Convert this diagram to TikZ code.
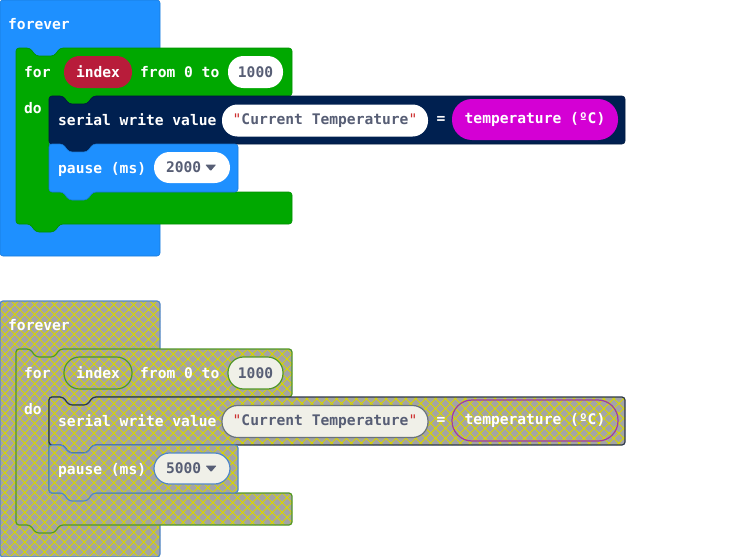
\documentclass[tikz,border=0pt]{standalone}
\usepackage{fontspec}
\newfontfamily\blockfont{DejaVu Sans Mono}
\usetikzlibrary{patterns.meta}

\definecolor{evtblue}{RGB}{30,144,255}
\definecolor{loopgreen}{RGB}{0,168,0}
\definecolor{serialnavy}{RGB}{0,32,80}
\definecolor{varred}{RGB}{184,28,58}
\definecolor{inputmag}{RGB}{212,0,212}
\definecolor{fieldtext}{RGB}{87,94,117}
\definecolor{quotered}{RGB}{205,45,45}
\definecolor{hgray}{RGB}{164,164,164}
\definecolor{hyellow}{RGB}{214,214,0}
\definecolor{hfield}{RGB}{240,240,232}
\definecolor{hblueedge}{RGB}{80,135,200}
\definecolor{hgreenedge}{RGB}{80,150,40}
\definecolor{hnavyedge}{RGB}{45,55,75}
\definecolor{hpurpleedge}{RGB}{160,60,160}
\definecolor{hgrayedge}{RGB}{105,115,125}

\tikzset{
  blockfontset/.style={font=\blockfont\bfseries\fontsize{14.6}{17}\selectfont},
  lbl/.style={blockfontset, text=white, inner sep=0pt, anchor=base west},
  pillbase/.style={blockfontset, inner sep=0pt, minimum height=32pt,
    rounded corners=15.5pt, text=fieldtext},
  blockshape/.style={rounded corners=3pt},
  hatchfill/.style={preaction={fill=hgray},
    pattern={Hatch[angle=45,distance=7pt,line width=0.9pt]},
    pattern color=hyellow, line width=1.2pt},
}

% One "forever / for ... do" stack; #1 = pause value, #2 = node name suffix
\newcommand\blockgroup[2]{%
  % forever event block
  \path[blockshape, foreverblk] (0,0) -- (160,0) -- (160,256) -- (0,256) -- cycle;
  % for loop (C-shaped)
  \path[blockshape, loopblk] (16,48) -- (30,48) -- (36,56) -- (54,56) -- (60,48)
    -- (292,48) -- (292,96) -- (93,96) -- (87,104) -- (69,104) -- (63,96)
    -- (49,96) -- (49,192) -- (292,192) -- (292,224) -- (60,224) -- (54,232)
    -- (36,232) -- (30,224) -- (16,224) -- cycle;
  % serial write value
  \path[blockshape, serialblk] (49,96) -- (63,96) -- (69,104) -- (87,104) -- (93,96)
    -- (625,96) -- (625,144) -- (93,144) -- (87,152) -- (69,152) -- (63,144)
    -- (49,144) -- cycle;
  % pause
  \path[blockshape, pauseblk] (49,144) -- (63,144) -- (69,152) -- (87,152) -- (93,144)
    -- (238,144) -- (238,192) -- (93,192) -- (87,200) -- (69,200) -- (63,192)
    -- (49,192) -- cycle;
  % labels and inputs
  \node[lbl] (forever#2) at (8,29) {forever};
  \node[lbl] (for#2) at (24,77.5) {for};
  \node[varpill, minimum width=68pt] (index#2) at (98,72) {index};
  \node[lbl] (from#2) at (140,77.5) {from 0 to};
  \node[numpill, minimum width=55pt] (upper#2) at (255.5,72) {1000};
  \node[lbl] (do#2) at (24,113) {do};
  \node[lbl] (serial#2) at (58,125.5) {serial write value};
  \node[strpill, minimum width=206pt] (str#2) at (325,120.5)
    {{\color{quotered}\mdseries"}Current Temperature{\color{quotered}\mdseries"}};
  \node[lbl, anchor=center] (eq#2) at (441,120) {=};
  \node[tmppill] (temp#2) at (535,119.5) {temperature (ºC)};
  \node[lbl] (pause#2) at (58,173.5) {pause (ms)};
  \node[ddpill, minimum width=76pt, minimum height=31pt] (ms#2) at (192,167.5)
    {\makebox[52pt][l]{#1}};
  \fill[fieldtext, rounded corners=0.8pt] ([shift={(-25,-3)}]ms#2.east) -- ++(11,0) -- ++(-5.5,6.5) -- cycle;
}

\begin{document}
\begin{tikzpicture}[x=1pt,y=-1pt]
  \useasboundingbox (0,0) rectangle (729,557);

  % regular colours
  \begin{scope}[
    foreverblk/.style={fill=evtblue, draw=evtblue!85!black, line width=0.6pt},
    loopblk/.style={fill=loopgreen, draw=loopgreen!85!black, line width=0.6pt},
    serialblk/.style={fill=serialnavy, draw=serialnavy!80!black, line width=0.6pt},
    pauseblk/.style={fill=evtblue, draw=evtblue!85!black, line width=0.6pt},
    varpill/.style={pillbase, fill=varred, text=white},
    numpill/.style={pillbase, fill=white},
    strpill/.style={pillbase, fill=white},
    tmppill/.style={pillbase, fill=inputmag, text=white, minimum height=41pt,
      minimum width=166pt, rounded corners=20pt},
    ddpill/.style={pillbase, fill=white}]
    \blockgroup{2000}{a}
  \end{scope}

  % highlighted (hatched) copy
  \begin{scope}[shift={(0,301)},
    foreverblk/.style={hatchfill, draw=hblueedge},
    loopblk/.style={hatchfill, draw=hgreenedge},
    serialblk/.style={hatchfill, draw=hnavyedge},
    pauseblk/.style={hatchfill, draw=hblueedge},
    varpill/.style={pillbase, draw=hgreenedge, line width=1.2pt, text=white},
    numpill/.style={pillbase, fill=hfield, draw=hgreenedge, line width=1.2pt},
    strpill/.style={pillbase, fill=hfield, draw=hgrayedge, line width=1.2pt},
    tmppill/.style={pillbase, draw=hpurpleedge, line width=1.2pt, text=white,
      minimum height=41pt, minimum width=166pt, rounded corners=20pt},
    ddpill/.style={pillbase, fill=hfield, draw=hblueedge, line width=1.2pt}]
    \blockgroup{5000}{b}
  \end{scope}
\end{tikzpicture}
\end{document}
